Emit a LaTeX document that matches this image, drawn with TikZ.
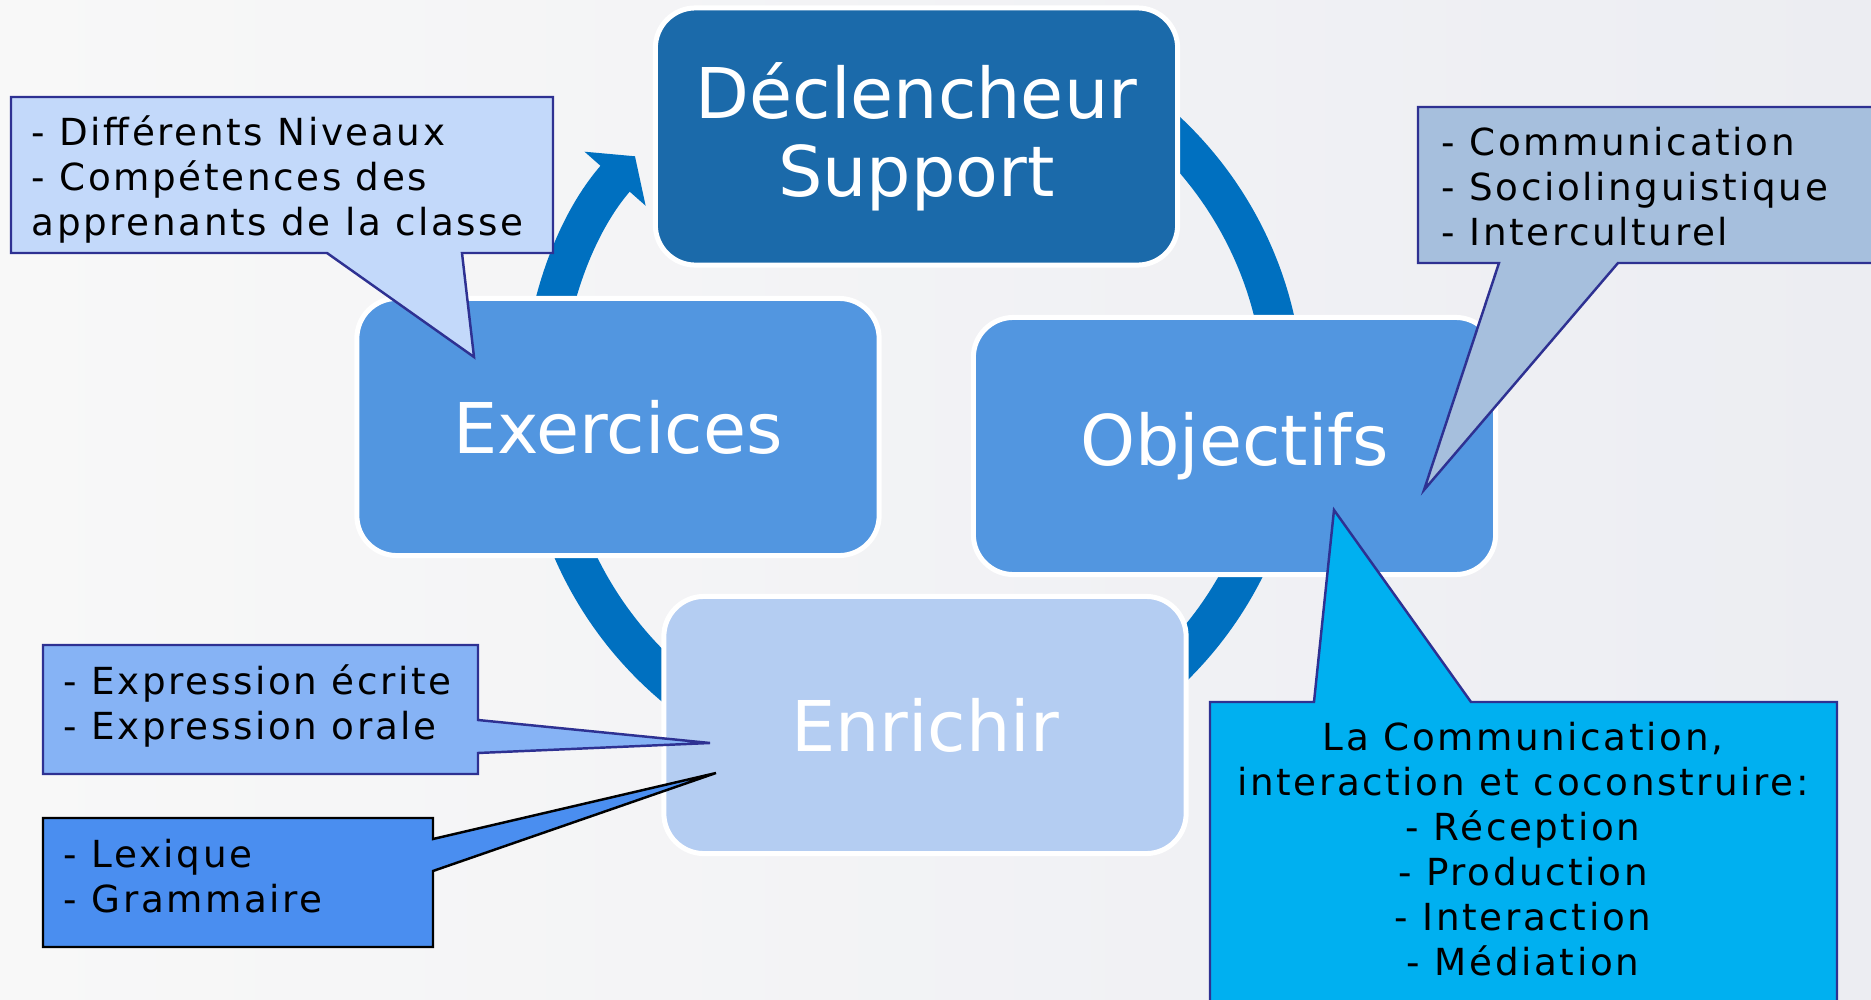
\documentclass[tikz,border=0pt]{standalone}
\usepackage{fontspec}
\setmainfont{DejaVu Sans}
\newfontfamily\bullefont{DejaVu Sans}[LetterSpace=7]
\usepackage{tikz}
\usetikzlibrary{arrows.meta}
\definecolor{fondA}{HTML}{F8F8F8}
\definecolor{fondB}{HTML}{ECEDF2}
\definecolor{anneau}{HTML}{0070C0}
\definecolor{declencheur}{HTML}{1B6AAA}
\definecolor{moyen}{HTML}{5296E0}
\definecolor{enrichir}{HTML}{B4CDF2}
\definecolor{bordbulle}{HTML}{2E3192}
\definecolor{bulleA}{HTML}{C3D9FA}
\definecolor{bulleB}{HTML}{A6BFDD}
\definecolor{bulleC}{HTML}{00B0F0}
\definecolor{bulleD}{HTML}{86B3F5}
\definecolor{bulleE}{HTML}{4A8EF0}

\begin{document}
\begin{tikzpicture}[x=0.01cm, y=0.01cm,
    bloc/.style={draw=white, line width=0.05cm, rounded corners=0.4cm,
        minimum width=5.22cm, minimum height=2.57cm, text=white, align=center,
        font=\fontsize{19.9}{22.2}\selectfont},
    bulle/.style={draw=bordbulle, line width=0.7pt},
    texte/.style={inner sep=0pt, font=\bullefont\fontsize{10.6}{12.8}\selectfont}]

        \useasboundingbox (0,0) rectangle (1871,-1000);

        % Fond
        \shade[left color=fondA, right color=fondB] (0,0) rectangle (1871,-1000);

        % Cercle avec la flèche
        \coordinate (centre) at (913,-402);
        \draw[line width=0.39cm, anneau, -{Triangle[width=0.8cm, length=0.3cm]}]
            (centre) ++(90:371) arc[start angle=90, end angle=-221.5, radius=3.71cm];

        % Les quatre blocs
        \node[bloc, fill=declencheur] (decl) at (916.5,-136.5) {Déclencheur\\Support};
        \node[bloc, fill=moyen] (exer) at (618,-427) {Exercices};
        \node[bloc, fill=moyen] (obj) at (1234.5,-446) {Objectifs};
        \node[bloc, fill=enrichir] (enr) at (925,-725) {Enrichir};

        % Bulle des exercices
        \fill[bulleA, bulle] (11,-97) -- (553,-97) -- (553,-253) -- (462,-253) -- (474,-357)
            -- (327,-253) -- (11,-253) -- cycle;
        \node[texte, anchor=north west, align=left] (niveaux) at (31,-115)
            {- Différents Niveaux\\- Compétences des\\apprenants de la classe};

        % Bulle des objectifs
        \fill[bulleB, bulle] (1418,-107) -- (1880,-107) -- (1880,-263) -- (1618,-263) -- (1424,-490)
            -- (1499,-263) -- (1418,-263) -- cycle;
        \node[texte, anchor=north west, align=left] (compet) at (1441,-126)
            {- Communication\\- Sociolinguistique\\- Interculturel};

        % Bulle de la communication
        \fill[bulleC, bulle] (1210,-702) -- (1314,-702) -- (1334,-510) -- (1471,-702)
            -- (1837,-702) -- (1837,-1010) -- (1210,-1010) -- cycle;
        \node[texte, anchor=north, align=center] (commu) at (1523,-721)
            {La Communication,\\interaction et coconstruire:\\- Réception\\- Production\\- Interaction\\- Médiation};

        % Bulles de l'enrichissement
        \fill[bulleD, bulle] (43,-645) -- (478,-645) -- (478,-720) -- (710,-743) -- (478,-753)
            -- (478,-774) -- (43,-774) -- cycle;
        \node[texte, anchor=north west, align=left] (expr) at (63,-664)
            {- Expression écrite\\- Expression orale};

        \fill[bulleE, bulle, draw=black] (43,-818) -- (433,-818) -- (433,-839) -- (716,-773)
            -- (433,-871) -- (433,-947) -- (43,-947) -- cycle;
        \node[texte, anchor=north west, align=left] (lexique) at (63,-838)
            {- Lexique\\- Grammaire};
    \end{tikzpicture}
\end{document}
